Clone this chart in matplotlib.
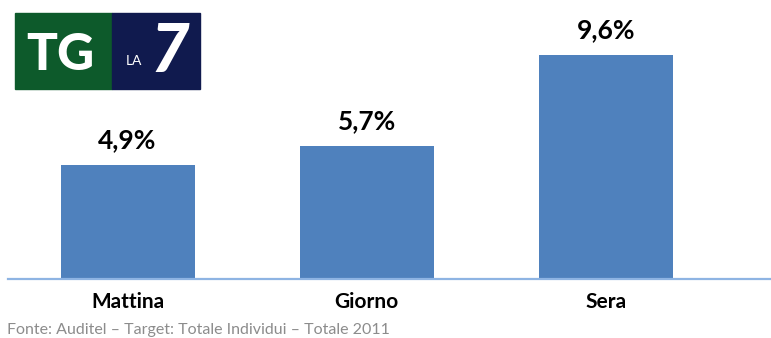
import matplotlib.pyplot as plt
from matplotlib.patches import Rectangle

fasce = ['Mattina', 'Giorno', 'Sera']
share = [4.9, 5.7, 9.6]
etichette = ['4,9%', '5,7%', '9,6%']
fonte = 'Fonte: Auditel \u2013 Target: Totale Individui \u2013 Totale 2011'

plt.rcParams['font.family'] = ['Lato', 'DejaVu Sans']

fig = plt.figure(figsize=(7.71, 3.38), dpi=100)
ax = fig.add_axes([8/771, 1 - 279/338, 1 - 8/771, 279/338])

x = range(len(fasce))
ax.bar(x, share, width=0.56, color='#4F81BD')
for i, v in enumerate(share):
    ax.text(i, v + 0.55, etichette[i], ha='center', va='bottom',
            fontsize=19, fontweight='bold', color='black')

ax.set_xlim(-0.5, 2.69)
ax.set_ylim(0, 11.96)
for s in ['top', 'right', 'left']:
    ax.spines[s].set_visible(False)
ax.spines['bottom'].set_color('#8EB4E3')
ax.spines['bottom'].set_linewidth(1.6)
ax.set_yticks([])
ax.set_xticks(list(x))
ax.set_xticklabels(fasce, fontsize=15, fontweight='bold')
ax.tick_params(axis='x', length=0, pad=9)

fig.text(7/771, 1 - 330/338, fonte, fontsize=11.5, color='#8C8C8C', va='center')

# logo TG LA7
fig.patches.append(Rectangle((15/771, 1 - 89/338), 97/771, 76/338,
                             transform=fig.transFigure, color='#0D5A2B'))
fig.patches.append(Rectangle((112/771, 1 - 89/338), 88/771, 76/338,
                             transform=fig.transFigure, color='#101A4E'))
fig.text(60/771, 1 - 55/338, 'TG', fontsize=37, fontweight='black',
         color='white', ha='center', va='center')
fig.text(134/771, 1 - 61/338, 'LA', fontsize=10, color='white',
         ha='center', va='center')
fig.text(170/771, 1 - 52/338, '7', fontsize=48, fontweight='black',
         fontstyle='italic', color='white', ha='center', va='center')

plt.savefig('out.png', dpi=100)
